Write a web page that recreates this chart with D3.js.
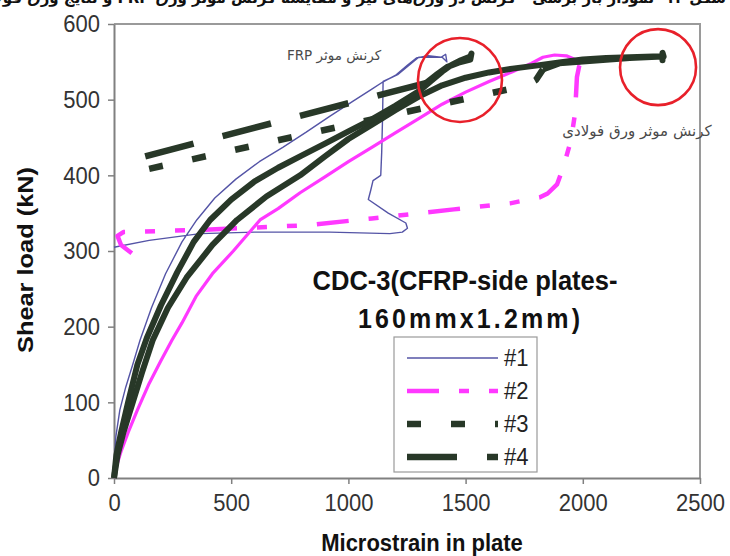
<!DOCTYPE html>
<html>
<head>
<meta charset="utf-8">
<script src="https://cdn.jsdelivr.net/npm/d3@7/dist/d3.min.js"></script>
<style>
    body { margin: 0; background: #fff; }
    svg { display: block; font-family: Arial, "Liberation Sans", sans-serif; }
</style>
</head>
<body>
<div id="chart"></div>
<script>
// ---- data (microstrain, kN) ----
const xTicks = [0, 500, 1000, 1500, 2000, 2500];
const yTicks = [0, 100, 200, 300, 400, 500, 600];
const seriesNames = ["#1", "#2", "#3", "#4"];

// #1 : single solid trace (loading, peak, then the gauge drifts back)
const s1 = [[0,0],[3,30],[8,55],[25,90],[50,120],[80,150],[111,182],[160,225],[220,270],[290,312],
    [353,341],[430,370],[520,395],[620,418],[720,437],[820,457],[920,478],[1020,498],[1100,514],
    [1150,524],[1200,532],[1250,545],[1290,555],[1340,558],[1395,556],[1415,560],[1420,550],
    [1400,556],[1300,556],[1210,533],[1148,524],[1146,480],[1142,430],[1138,400],[1105,393],
    [1095,380],[1085,368],[1170,350],[1245,337],[1252,330],[1230,325],[1177,323],[921,325],
    [600,325],[367,323],[150,314],[0,305]];

// #2 : loading branch and return branch
const s2Load = [[0,0],[10,15],[30,35],[60,60],[100,90],[150,125],[200,155],[247,182],[290,205],
    [350,240],[420,270],[509,300],[623,341],[700,356],[794,377],[900,398],[1000,418],[1100,437],
    [1200,456],[1300,475],[1400,494],[1500,510],[1600,524],[1700,537],[1780,548],[1830,556],
    [1880,559],[1930,558],[1975,552],[1985,545]];
const s2Return = [[1985,545],[1975,530],[1970,500],[1965,478],[1950,447],[1930,425],[1910,405],
    [1890,388],[1850,376],[1817,371],[1690,363],[1450,355],[1100,343],[820,334],[370,328],
    [40,325],[15,320],[30,308],[80,296]];

// #3
const s3Load = [[0,0],[15,30],[40,60],[75,95],[120,140],[165,182],[230,225],[310,265],[420,308],
    [525,341],[650,372],[794,400],[900,425],[1000,448],[1100,467],[1200,486],[1300,504],
    [1400,519],[1500,529],[1600,536],[1700,541],[1800,545],[1900,549],[2000,553],[2100,555],
    [2200,556],[2300,557],[2345,557],[2340,562],[2340,552],[2340,557],[2200,555],[1900,548],
    [1830,540]];
const s3Return = [[1830,540],[1800,526],[1760,519],[68,403]];

// #4
const s4Load = [[0,0],[10,30],[30,60],[60,100],[100,150],[140,185],[200,228],[270,272],[340,312],
    [410,341],[500,368],[600,392],[700,410],[800,426],[900,442],[1000,458],[1100,474],[1200,492],
    [1300,511],[1350,524],[1400,537],[1440,546],[1480,552],[1520,557],[1525,561],[1520,553],
    [1470,549],[1420,543],[1380,534],[1330,522]];
const s4Return = [[1330,522],[120,424]];

// ---- layout ----
const WIDTH = 730, HEIGHT = 556;
const MARGIN = { LEFT: 114, RIGHT: 30, TOP: 24, BOTTOM: 78 };
const STRETCH = "scale(1,1.1)";   // the source image is a bit taller than wide

const COLORS = { s1: "#5454a6", s2: "#ff38ff", dark: "#283828" };
const DASH = { s2: "32,20,10,20,10,20", s3: "14,30", s4: "50,30" };

const svg = d3.select("#chart").append("svg")
    .attr("width", WIDTH)
    .attr("height", HEIGHT);

svg.append("rect").attr("width", WIDTH).attr("height", HEIGHT).attr("fill", "#fff");

const x = d3.scaleLinear().domain([0, 2500]).range([MARGIN.LEFT, WIDTH - MARGIN.RIGHT]);
const y = d3.scaleLinear().domain([0, 600]).range([HEIGHT - MARGIN.BOTTOM, MARGIN.TOP]);

// caption of the figure, cut off at the top edge of the crop
svg.append("text")
    .attr("x", 726).attr("y", 3)
    .attr("direction", "rtl")
    .style("font-family", "'DejaVu Sans'")
    .style("font-size", "15px")
    .style("font-weight", "bold")
    .attr("fill", "#111")
    .text("شکل ۱۲- نمودار بار برشی - کرنش در ورق‌های تیر و مقایسه کرنش موثر ورق FRP و نتایج ورق فولادی");

// plot frame (top and right)
svg.append("path")
    .attr("d", `M${x(0)},${y(600)}H${x(2500)}V${y(0)}`)
    .attr("fill", "none")
    .attr("stroke", "#9a9a9a")
    .attr("stroke-width", 2);

// X axis
const xAxis = svg.append("g")
    .attr("transform", `translate(0, ${y(0)})`)
    .call(d3.axisBottom(x).tickValues(xTicks).tickFormat(d3.format("d"))
        .tickSize(6).tickSizeOuter(0).tickPadding(8));

// Y axis
const yAxis = svg.append("g")
    .attr("transform", `translate(${x(0)}, 0)`)
    .call(d3.axisLeft(y).tickValues(yTicks).tickFormat(d3.format("d"))
        .tickSize(6).tickSizeOuter(0).tickPadding(8));

[xAxis, yAxis].forEach(a => {
    a.select(".domain").attr("stroke", "#808080").attr("stroke-width", 2);
    a.selectAll(".tick line").attr("stroke", "#808080").attr("stroke-width", 1.5);
    a.selectAll(".tick text")
        .attr("fill", "#333")
        .style("font-size", "22px")
        .style("font-family", "Arial, 'Liberation Sans', sans-serif")
        .attr("transform", STRETCH);
});

// Axis titles
svg.append("text")
    .attr("text-anchor", "middle")
    .attr("transform", `translate(422, 551) ${STRETCH}`)
    .style("font-weight", "bold")
    .style("font-size", "22px")
    .attr("fill", "#111")
    .text("Microstrain in plate");

svg.append("text")
    .attr("text-anchor", "middle")
    .attr("transform", "translate(33, 260) rotate(-90)")
    .attr("textLength", 186)
    .attr("lengthAdjust", "spacingAndGlyphs")
    .style("font-weight", "bold")
    .style("font-size", "22px")
    .attr("fill", "#111")
    .text("Shear load (kN)");

// ---- series ----
const line = d3.line().x(d => x(d[0])).y(d => y(d[1]));

function drawPath(data, color, width, dash) {
    svg.append("path")
        .datum(data)
        .attr("d", line)
        .attr("fill", "none")
        .attr("stroke", color)
        .attr("stroke-width", width)
        .attr("stroke-linejoin", "round")
        .attr("stroke-dasharray", dash || null);
}

drawPath(s1, COLORS.s1, 1.4);
drawPath(s2Load, COLORS.s2, 3.2);
drawPath(s2Return, COLORS.s2, 4.5, DASH.s2);
drawPath(s3Load, COLORS.dark, 6);
drawPath(s3Return, COLORS.dark, 6.5, DASH.s3);
drawPath(s4Load, COLORS.dark, 6);
drawPath(s4Return, COLORS.dark, 6.5, DASH.s4);

// ---- chart title inside the plot ----
svg.append("text")
    .attr("text-anchor", "middle")
    .attr("transform", `translate(465, 290) ${STRETCH}`)
    .attr("textLength", 305)
    .attr("lengthAdjust", "spacingAndGlyphs")
    .style("font-weight", "bold")
    .style("font-size", "25px")
    .attr("fill", "#111")
    .text("CDC-3(CFRP-side plates-");

svg.append("text")
    .attr("text-anchor", "middle")
    .attr("transform", `translate(469, 328) ${STRETCH}`)
    .attr("textLength", 222)
    .style("font-weight", "bold")
    .style("font-size", "25px")
    .attr("fill", "#111")
    .text("160mmx1.2mm)");

// ---- legend ----
const legend = svg.append("g").attr("transform", "translate(394, 337)");
legend.append("rect")
    .attr("width", 143).attr("height", 135)
    .attr("fill", "#fff")
    .attr("stroke", "#9a9a9a")
    .attr("stroke-width", 1.2);

const legendStyle = [
    { color: COLORS.s1, width: 1.6, dash: null },
    { color: COLORS.s2, width: 4.5, dash: DASH.s2 },
    { color: COLORS.dark, width: 6.5, dash: DASH.s3 },
    { color: COLORS.dark, width: 6.5, dash: DASH.s4 }
];

seriesNames.forEach((name, i) => {
    const ly = 21 + i * 33;
    legend.append("line")
        .attr("x1", 13).attr("x2", 104)
        .attr("y1", ly).attr("y2", ly)
        .attr("stroke", legendStyle[i].color)
        .attr("stroke-width", legendStyle[i].width)
        .attr("stroke-dasharray", legendStyle[i].dash);
    legend.append("text")
        .attr("transform", `translate(110, ${ly + 8}) ${STRETCH}`)
        .style("font-size", "22px")
        .attr("fill", "#222")
        .text(name);
});

// ---- annotations: red circles and Persian notes ----
const circles = [{ cx: 1476, cy: 526, r: 42 }, { cx: 2321, cy: 543, r: 38 }];
svg.selectAll(".mark-circle")
    .data(circles)
    .enter().append("circle")
    .attr("class", "mark-circle")
    .attr("cx", d => x(d.cx))
    .attr("cy", d => y(d.cy))
    .attr("r", d => d.r)
    .attr("fill", "none")
    .attr("stroke", "#e8202a")
    .attr("stroke-width", 2.6);

svg.append("text")
    .attr("x", 334).attr("y", 60)
    .attr("direction", "rtl")
    .attr("text-anchor", "middle")
    .style("font-family", "'DejaVu Sans'")
    .style("font-size", "13.5px")
    .attr("fill", "#4a4a4a")
    .text("کرنش موثر FRP");

svg.append("text")
    .attr("x", 637).attr("y", 136)
    .attr("direction", "rtl")
    .attr("text-anchor", "middle")
    .style("font-family", "'DejaVu Sans'")
    .style("font-size", "15px")
    .attr("fill", "#4a4a4a")
    .text("کرنش موثر ورق فولادی");
</script>
</body>
</html>
